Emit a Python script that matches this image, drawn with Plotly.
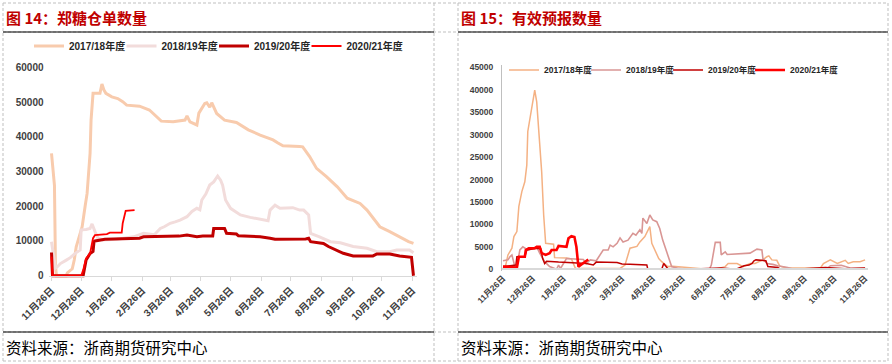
import plotly.graph_objects as go

W, H = 892, 364

# ---------------- data ----------------
tick_days = [0, 30, 61, 92, 120, 151, 181, 212, 242, 273, 304, 334, 365]
tick_labels = ["11月26日", "12月26日", "1月26日", "2月26日", "3月26日", "4月26日",
               "5月26日", "6月26日", "7月26日", "8月26日", "9月26日", "10月26日", "11月26日"]
seasons = ["2017/18年度", "2018/19年度", "2019/20年度", "2020/21年度"]

# Figure 14: Zhengzhou sugar warehouse receipts (days since 11-26)
wr_1718_day = [0, 3, 4, 5, 15, 16, 21, 23, 25, 28, 31, 34, 36, 39, 40, 42, 49, 51, 53, 55,
               61, 67, 72, 76, 89, 99, 108, 111, 123, 135, 137, 140, 147, 149, 155, 157, 160, 162, 167, 175,
               187, 199, 211, 224, 229, 234, 251, 254, 261, 268, 278, 289, 299, 312, 319, 332, 342, 352, 361, 366]
wr_1718_val = [35200, 26000, 3000, 0, 0, 800, 2000, 4500, 8300, 11000, 14100, 20000, 23700, 35200, 44800, 52500, 52500, 55200, 53500, 52500,
               51500, 51000, 50100, 49100, 48800, 47700, 45300, 44500, 44300, 44800, 46000, 44300, 43400, 46800, 49600, 49800, 48500, 49800, 46700, 44800,
               44100, 42000, 40500, 39100, 38200, 37400, 37200, 37100, 34300, 30900, 28500, 25600, 22300, 20800, 18900, 14100, 12700, 11200, 9800, 9300]

wr_1819_day = [0, 4, 6, 9, 15, 19, 24, 26, 29, 30, 35, 39, 41, 44, 47, 52, 66, 83, 93, 104,
               110, 114, 120, 125, 130, 137, 142, 147, 150, 152, 156, 160, 164, 168, 171, 173, 176, 181, 191, 201,
               219, 221, 226, 231, 244, 251, 255, 260, 262, 271, 282, 292, 305, 319, 329, 342, 349, 362, 366]
wr_1819_val = [9800, 2200, 2600, 3500, 4500, 5200, 6450, 6800, 7400, 13200, 13300, 13600, 14900, 12700, 10800, 10300, 10500, 11200, 12200, 11800,
               13600, 14100, 15100, 15500, 16000, 17000, 18500, 19400, 19000, 21800, 23500, 26100, 27000, 28700, 27500, 26100, 21800, 19400, 17500, 16800,
               15800, 18900, 20300, 19400, 19600, 18900, 18900, 17500, 12200, 11200, 9800, 9500, 8400, 7900, 6900, 6900, 7400, 7400, 6600]

wr_1920_day = [0, 1, 32, 35, 39, 42, 43, 44, 54, 89, 93, 129, 137, 147, 153, 163, 164, 175, 177, 187,
               189, 211, 221, 226, 257, 260, 262, 275, 280, 288, 295, 305, 325, 329, 342, 352, 364, 366]
wr_1920_val = [6700, 0, 0, 4500, 6400, 7000, 9800, 10000, 10500, 10800, 11200, 11400, 11700, 11200, 11400, 11400, 13600, 13600, 12200, 12000,
               11500, 11200, 10800, 10500, 10600, 10800, 9800, 9300, 8400, 7400, 6450, 5700, 5700, 6250, 6250, 5700, 5300, 0]

wr_2021_day = [0, 1, 30, 32, 35, 39, 42, 44, 56, 59, 71, 72, 75, 84]
wr_2021_val = [5500, 0, 0, 1600, 5000, 6400, 10800, 11700, 12000, 12400, 12400, 15100, 18700, 18900]

# Figure 15: valid warehouse forecasts
wb_1718_day = [0, 2, 5, 9, 11, 14, 16, 19, 22, 24, 25, 28, 30, 32, 34, 36, 39, 41, 43, 51,
               52, 64, 69, 73, 105, 118, 123, 128, 135, 138, 143, 148, 150, 153, 157, 160, 166, 171, 188, 206,
               216, 224, 227, 236, 242, 249, 254, 262, 266, 268, 271, 276, 279, 286, 320, 323, 330, 337, 345, 348,
               353, 360, 365]
wb_1718_val = [200, 200, 3200, 4700, 7300, 8400, 14000, 17300, 19500, 23200, 30700, 35100, 37300, 39900, 37300, 30700, 21700, 12100, 5800, 5600,
               2600, 2500, 2300, 200, 100, 200, 950, 4700, 5100, 6100, 7300, 9500, 5800, 4300, 2400, 1700, 600, 700, 400, 0,
               150, 600, 1300, 1300, 600, 1300, 1300, 2100, 2800, 3000, 2100, 2000, 700, 300, 300, 1300, 2100, 1300, 2000, 1300,
               1700, 1700, 2100]

wb_1819_day = [0, 5, 7, 9, 12, 14, 17, 20, 25, 34, 37, 42, 47, 54, 56, 58, 64, 71, 81, 84,
               88, 94, 98, 101, 106, 108, 111, 115, 118, 121, 126, 129, 131, 134, 138, 140, 141, 145, 148, 151,
               155, 158, 161, 165, 170, 177, 185, 208, 210, 214, 219, 220, 224, 226, 236, 249, 256, 261, 262, 266,
               272, 277, 287, 293, 326, 330, 341, 350, 365]
wb_1819_val = [1900, 2100, 2800, 3200, 600, 600, 4300, 5000, 4300, 5000, 3600, 1700, 600, 0, 950, 200, 2400, 2300, 2200, 1300,
               2100, 1900, 3200, 4300, 4300, 5400, 5000, 5800, 7000, 6100, 6500, 7300, 8000, 7600, 8800, 8000, 11400, 10200, 12100, 11000,
               10600, 9100, 6500, 3900, 600, 200, 0, 0, 950, 6000, 6000, 3200, 3900, 3300, 3500, 3600, 4500, 4300, 2400, 1300,
               1100, 800, 400, 0, 0, 800, 900, 300, 200]

wb_1920_day = [0, 13, 14, 22, 24, 34, 38, 40, 42, 44, 56, 71, 84, 91, 94, 115, 120, 128, 145, 146,
               160, 162, 166, 185, 208, 220, 235, 243, 248, 251, 253, 255, 265, 267, 277, 280, 296, 325, 345, 365]
wb_1920_val = [600, 950, 2800, 2800, 4300, 4700, 4600, 2400, 1300, 1800, 1600, 1500, 1300, 950, 1600, 1500, 1200, 1100, 950, 0,
               0, 1300, 200, 0, 200, 300, 0, 800, 950, 1300, 1900, 2100, 1900, 600, 400, 0, 0, 400, 100, 300]

wb_2021_day = [0, 10, 14, 16, 22, 23, 26, 32, 34, 37, 39, 43, 47, 49, 54, 56, 64, 66, 69, 72, 74, 76, 78, 83, 86]
wb_2021_val = [600, 400, 400, 2800, 2800, 4300, 4700, 4700, 5000, 5000, 3600, 3200, 3600, 4300, 4300, 5200, 5000, 6900, 7400, 7200,
               5000, 600, 900, 1700, 2200]

# ---------------- styling ----------------
left_colors = ["#F8CBAD", "#F2DCDB", "#C00000", "#FF0000"]
left_widths = [3, 3, 3, 1.8]
right_colors = ["#F4B183", "#D99694", "#C00000", "#FF0000"]
right_widths = [1.5, 1.6, 1.5, 2.6]

FONT = "Liberation Sans, Noto Sans CJK SC, sans-serif"
CJK = "Noto Sans CJK SC, sans-serif"


def px(x):
    return x / W


def py(y):
    return 1 - y / H


fig = go.Figure()

left_series = [(wr_1718_day, wr_1718_val), (wr_1819_day, wr_1819_val),
               (wr_1920_day, wr_1920_val), (wr_2021_day, wr_2021_val)]
for i, (d, v) in enumerate(left_series):
    fig.add_trace(go.Scatter(x=d, y=v, mode="lines", name=seasons[i],
                             line=dict(color=left_colors[i], width=left_widths[i]),
                             legendwidth=(62 if i == 3 else None),
                             xaxis="x", yaxis="y", legend="legend", hoverinfo="skip"))

right_series = [(wb_1718_day, wb_1718_val), (wb_1819_day, wb_1819_val),
                (wb_1920_day, wb_1920_val), (wb_2021_day, wb_2021_val)]
for i, (d, v) in enumerate(right_series):
    fig.add_trace(go.Scatter(x=d, y=v, mode="lines", name=seasons[i],
                             line=dict(color=right_colors[i], width=right_widths[i]),
                             legendwidth=(55 if i == 3 else None),
                             xaxis="x2", yaxis="y2", legend="legend2", hoverinfo="skip"))

tick_font_l = dict(family=FONT, size=10, color="#3F3F3F", weight="bold")
tick_font_r = dict(family=FONT, size=8.5, color="#3F3F3F", weight="bold")

fig.update_layout(
    width=W, height=H,
    margin=dict(l=0, r=0, t=0, b=0, autoexpand=False),
    paper_bgcolor="white", plot_bgcolor="white",
    showlegend=True,
    xaxis=dict(domain=[px(48.53), px(417.43)], range=[-3, 370], anchor="free", position=py(275.7),
               automargin=False,
               tickmode="array", tickvals=tick_days, ticktext=tick_labels, tickangle=-45,
               ticks="outside", ticklen=4, tickcolor="#D9D9D9", showline=True, linecolor="#D9D9D9",
               linewidth=1, showgrid=False, zeroline=False, tickfont=tick_font_l),
    yaxis=dict(domain=[py(279.2), py(65.56)], range=[-1000, 60500], anchor="x", automargin=False,
               tickmode="array", tickvals=[0, 10000, 20000, 30000, 40000, 50000, 60000], tickformat="d",
               showgrid=False, zeroline=False, showline=False, ticks="",
               ticklabelstandoff=4, tickfont=tick_font_l),
    xaxis2=dict(domain=[px(502.0), px(868.06)], range=[-1, 368], anchor="free", position=py(269.3),
                automargin=False,
                tickmode="array", tickvals=tick_days, ticktext=tick_labels, tickangle=-45,
                ticks="", showline=True, linecolor="#D9D9D9", linewidth=1.6,
                showgrid=False, zeroline=False, tickfont=tick_font_r),
    yaxis2=dict(domain=[py(271.1), py(65.06)], range=[-400, 45500], anchor="x2", automargin=False,
                tickmode="array", tickvals=list(range(0, 45001, 5000)), tickformat="d",
                showgrid=False, zeroline=False, showline=True, linecolor="#BFBFBF", linewidth=1,
                ticks="", ticklabelstandoff=6, tickfont=tick_font_r),
    legend=dict(orientation="h", x=px(29), xanchor="left", y=py(46), yanchor="middle",
                entrywidth=47.5, font=dict(family=FONT, size=10, color="#262626", weight="bold"),
                bgcolor="rgba(0,0,0,0)", traceorder="normal"),
    legend2=dict(orientation="h", x=px(504), xanchor="left", y=py(70), yanchor="middle",
                 entrywidth=37, font=dict(family=FONT, size=8.5, color="#262626", weight="bold"),
                 bgcolor="rgba(0,0,0,0)", traceorder="normal"),
)

# titles and sources
annotations = [
    dict(text="图 14：郑糖仓单数量", x=px(4), y=py(17), xanchor="left", yanchor="middle",
         font=dict(family=CJK, size=15, color="#C00000", weight="bold")),
    dict(text="图 15：有效预报数量", x=px(459), y=py(17), xanchor="left", yanchor="middle",
         font=dict(family=CJK, size=15, color="#C00000", weight="bold")),
    dict(text="资料来源：浙商期货研究中心", x=px(4), y=py(347), xanchor="left", yanchor="middle",
         font=dict(family=CJK, size=15.5, color="#000000")),
    dict(text="资料来源：浙商期货研究中心", x=px(459), y=py(347), xanchor="left", yanchor="middle",
         font=dict(family=CJK, size=15.5, color="#000000")),
]
for a in annotations:
    a.update(xref="paper", yref="paper", showarrow=False)
fig.update_layout(annotations=annotations)

# page frame (dashed cell borders and solid rules)
dash = dict(color="#BFBFBF", width=1, dash="3px,2px")
solid = dict(color="#000000", width=1.2)
shapes = []
for xv in [3, 434, 458, 888]:
    shapes.append(dict(type="line", x0=px(xv), x1=px(xv), y0=py(3), y1=py(361), line=dash))
for yv in [3, 32, 332, 361]:
    shapes.append(dict(type="line", x0=px(3), x1=px(888), y0=py(yv), y1=py(yv), line=dash))
for (xa, xb) in [(3, 434), (458, 888)]:
    for yv in [32, 332]:
        shapes.append(dict(type="line", x0=px(xa), x1=px(xb), y0=py(yv), y1=py(yv), line=solid))
for s in shapes:
    s.update(xref="paper", yref="paper", layer="above")
fig.update_layout(shapes=shapes)

fig.write_html("out.html", config={"displayModeBar": False},
               post_script="document.body.style.margin='0';document.body.style.overflow='hidden';")
